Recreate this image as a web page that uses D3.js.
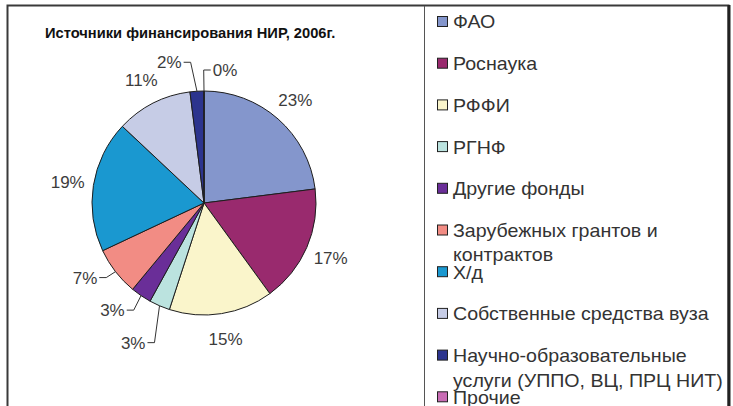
<!DOCTYPE html>
<html>
<head>
<meta charset="utf-8">
<script src="https://cdn.jsdelivr.net/npm/d3@7"></script>
<style>
  body { margin: 0; background: #fff; }
  svg { display: block; font-family: "Liberation Sans", Arial, sans-serif; }
</style>
</head>
<body>
<div id="chart"></div>
<script>
// data
const title = "Источники финансирования НИР, 2006г.";
const categories = [
    "ФАО",
    "Роснаука",
    "РФФИ",
    "РГНФ",
    "Другие фонды",
    "Зарубежных грантов и\nконтрактов",
    "Х/д",
    "Собственные средства вуза",
    "Научно-образовательные\nуслуги (УППО, ВЦ, ПРЦ НИТ)",
    "Прочие"
];
const shares = [23, 17, 15, 3, 3, 7, 19, 11, 2, 0];
const colors = ["#8496cc", "#992a6e", "#faf5cb", "#bbe3df", "#6a2e98", "#f28c84", "#1a98d0", "#c6cce6", "#2c348e", "#c86cb4"];

const width = 733, height = 406;
const cx = 204, cy = 203, radius = 112, labelRadius = 138;

// labels Excel pushed aside, with a leader line back to the slice
const nudges = {3: [-16, 13], 4: [-14, -7], 5: [-10, -10], 8: [-26, -3], 9: [21, 5]};

const svg = d3.select("#chart").append("svg")
    .attr("width", width)
    .attr("height", height);

// frame
svg.append("rect")
    .attr("x", 7.5).attr("y", 5.5)
    .attr("width", 721).attr("height", 420)
    .attr("fill", "#fff")
    .attr("stroke", "#3a3a3a")
    .attr("stroke-width", 2);
svg.append("line")
    .attr("x1", 729).attr("x2", 729).attr("y1", 5).attr("y2", height)
    .attr("stroke", "#222").attr("stroke-width", 3);
svg.append("line")
    .attr("x1", 424.5).attr("x2", 424.5).attr("y1", 6).attr("y2", height)
    .attr("stroke", "#555").attr("stroke-width", 1);

// the source picture is a little stretched sideways
svg.append("text")
    .attr("transform", "translate(45,38) scale(1.05,1)")
    .attr("font-size", 14)
    .attr("font-weight", "bold")
    .attr("fill", "#111")
    .text(title);

const pie = d3.pie().sort(null).value(d => d);
const arcs = pie(shares);
const arc = d3.arc().innerRadius(0).outerRadius(radius);

const g = svg.append("g").attr("transform", `translate(${cx},${cy})`);

g.selectAll(".slice")
    .data(arcs)
    .join("path")
    .attr("class", "slice")
    .attr("d", arc)
    .attr("fill", (d, i) => colors[i])
    .attr("stroke", "#1e1e1e")
    .attr("stroke-width", 1)
    .attr("stroke-linejoin", "round");

const midAngle = d => (d.startAngle + d.endAngle) / 2;
const polar = (a, r) => [Math.sin(a) * r, -Math.cos(a) * r];

const labelData = arcs.map((d, i) => {
    const [lx, ly] = polar(midAngle(d), labelRadius);
    const n = nudges[i] || [0, 0];
    return {i, d, x: lx + n[0], y: ly + n[1], leader: !!nudges[i]};
});

const labels = g.selectAll(".pct")
    .data(labelData)
    .join("text")
    .attr("class", "pct")
    .attr("x", d => d.x)
    .attr("y", d => d.y)
    .attr("dy", "0.36em")
    .attr("text-anchor", "middle")
    .attr("font-size", 17)
    .attr("fill", "#3c3c3c")
    .text(d => Math.round(d.d.value) + "%");

// leader lines: short horizontal stub from the label, then to the slice edge
labels.each(function (d) {
    if (!d.leader) return;
    const w = this.getComputedTextLength();
    const [ex, ey] = polar(midAngle(d.d), radius);
    const side = ex > d.x ? 1 : -1;
    const sx = d.x + side * (w / 2 + 2);
    const kx = sx + side * 7;
    g.append("path")
        .attr("d", d3.line()([[sx, d.y], [kx, d.y], [ex, ey]]))
        .attr("fill", "none")
        .attr("stroke", "#333")
        .attr("stroke-width", 1);
});

// legend
const legend = svg.append("g").attr("transform", "translate(437,22)");
const rowStep = 41.7;

const rows = legend.selectAll(".row")
    .data(categories)
    .join("g")
    .attr("class", "row")
    .attr("transform", (d, i) => `translate(0,${i * rowStep})`);

rows.append("rect")
    .attr("x", 0.5).attr("y", -5.5)
    .attr("width", 10).attr("height", 10)
    .attr("fill", (d, i) => colors[i])
    .attr("stroke", "#222")
    .attr("stroke-width", 1);

rows.append("text")
    .attr("transform", "translate(16,0) scale(1.09,1)")
    .attr("font-size", 18)
    .attr("fill", "#333")
    .selectAll("tspan")
    .data(d => d.split("\n"))
    .join("tspan")
    .attr("x", 0)
    .attr("y", (d, i) => i * 24.5)
    .attr("dy", "0.36em")
    .text(d => d);
</script>
</body>
</html>
